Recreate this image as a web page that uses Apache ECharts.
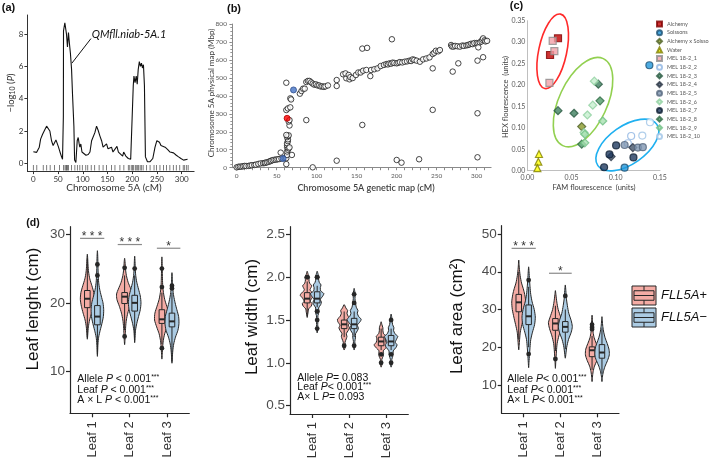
<!DOCTYPE html>
<html><head><meta charset="utf-8">
<script src="https://cdn.jsdelivr.net/npm/echarts@6/dist/echarts.min.js"></script>
<style>html,body{margin:0;padding:0;background:#fff}#c{width:709px;height:465px}</style>
</head><body><div id="c"></div>
<script>
// ================= DATA =================
// (a) QTL scan
const qtlCM = [0,6.7,12,14.7,18.7,23.4,26.8,30,33.4,36.8,40,43.4,45.7,47.8,50.4,53.7,57.1,59,60.7,61,62.3,63.7,65,67,69,71,73,75,77.3,79.3,82,83.4,86,88.7,90.7,92.7,94,96,98.3,102.3,106.4,111,114.5,117.8,121,124.4,127.8,131,134.5,138,141,144.5,148,151,154.5,158,161,164.5,169,172,176,180.6,182.6,187,192,196.8,200.8,202,203.4,205.6,208,210,212,214.3,216.5,218.6,220.6,222.6,224.6,226.6,230.7,236,241.5,246,249.7,255,258,261.6,266.4,271.7,276.4,280,283.4,289,293.6,298.4,303.7,307,311.8];
const qtlLOD = [0.72,0.68,1.0,1.5,1.8,2.1,2.3,2.35,2.0,1.4,1.1,1.0,1.45,1.4,1.05,0.72,0.4,0.25,2.9,8.2,8.1,8.7,8.6,8.0,7.2,8.1,7.4,6.8,5.8,4.2,2.3,0.2,0.05,1.4,1.6,1.2,1.0,1.2,0.7,0.6,0.5,0.55,0.7,1.4,1.5,1.9,2.3,2.05,1.7,1.4,1.0,0.9,1.2,0.9,0.85,1.0,0.7,0.7,1.05,0.7,0.7,0.45,0.7,0.45,0.3,0.25,0.25,4.8,5.4,5.0,5.4,4.9,5.8,6.3,6.0,6.2,5.9,6.1,4.8,0.4,0.1,0.1,0.3,1.0,1.4,1.3,1.1,1.15,1.0,0.85,0.7,0.6,0.65,0.5,0.4,0.3,0.2,0.15,0.25];
const rugCM = [0,7,20,27,34,43,53,61,64,66,67,69,71,77,84,89,94,99,106,110,117,124,133,141,148,158,165,175,183,192,195,199,201,202,206,208,211,213,216,219,222,229,236,244,249,256,263,269,276,283,289,296,303,306,310,313];
const qtlLabel = 'QMfll.niab-5A.1';
const qtlLabelAt = [118, 7.95];
const qtlLeader = [[78, 6.2], [116.5, 7.72]];
const aXTicks = [0,50,100,150,200,250,300];
const aYTicks = [0,2,4,6,8];

// (b) genetic vs physical map
const physMap = [[0,2],[2,5],[4,6],[6,6],[8,8],[10,10],[12,9],[15,10],[17,12],[19,14],[22,15],[24,17],[27,21],[30,24],[33,25],[35,26],[36,28],[38,30],[40,33],[42,36],[43,39],[45,42],[47,44],[49,45],[51,47],[53,48],[55,84],[56,51],[60,53],[62,20],[62,53],[63,71],[63,90],[64,100],[63,114],[63,125],[63,136],[64,148],[64,158],[63,170],[64,177],[65,180],[62,182],[65,108],[66,113],[69,71],[66,235],[65,257],[66,265],[62,321],[64,330],[67,336],[62,473],[67,386],[68,380],[79,412],[81,427],[83,440],[85,440],[87,477],[89,483],[91,483],[93,475],[95,468],[97,462],[99,464],[101,458],[103,458],[105,452],[107,453],[109,450],[111,453],[114,458],[87,265],[95,2],[125,39],[125,488],[125,455],[133,520],[137,498],[141,492],[136,525],[140,516],[142,504],[145,499],[149,516],[152,530],[155,530],[158,540],[162,544],[167,510],[168,544],[172,548],[176,553],[180,566],[184,572],[187,577],[189,575],[191,581],[193,579],[195,585],[197,583],[200,581],[202,584],[204,588],[207,586],[210,590],[213,592],[216,596],[218,594],[220,603],[222,600],[225,596],[229,590],[233,603],[237,608],[241,614],[245,633],[247,640],[249,651],[252,648],[254,655],[268,683],[269,675],[271,674],[273,678],[276,676],[279,674],[282,680],[284,678],[287,681],[289,683],[291,686],[293,690],[295,688],[297,694],[300,694],[302,694],[304,698],[306,703],[307,712],[308,720],[310,709],[311,703],[313,706],[157,663],[163,667],[194,715],[157,238],[200,43],[206,28],[228,47],[245,553],[245,322],[270,535],[277,581],[301,596],[301,303],[301,58],[308,615],[302,670]];
const physBlue = [[58,51],[71,433]];
const physRed = [[63,275]];
const bXLabels = [0,50,100,150,200,250,300];
const bXMinor = [0,10,20,30,40,50,60,70,80,90,100,110,120,130,140,150,160,170,180,190,200,210,220,230,240,250,260,270,280,290,300,310];

// (c) KASP genotyping
const cNames = ['Alchemy','Soissons','Alchemy x Soissons','Water','MEL 18-2_1','MEL 18-2_2','MEL 18-2_3','MEL 18-2_4','MEL 18-2_5','MEL 18-2_6','MEL 18-2_7','MEL 18-2_8','MEL 18-2_9','MEL 18-2_10'];
const alchemyPts = [[0.0347,0.309],[0.0257,0.270]];
const soissonsPts = [[0.138,0.246],[0.110,0.007]];
const crossPts = [[0.0615,0.103]];
const waterPts = [[0.0132,0.039],[0.0125,0.021],[0.0114,0.006]];
const mel1 = [[0.0287,0.303],[0.0306,0.279],[0.0250,0.205]];
const mel2 = [[0.1136,0.064],[0.1174,0.081]];
const mel3 = [[0.0347,0.140],[0.0528,0.134],[0.0803,0.202]];
const mel4 = [[0.0947,0.033],[0.1193,0.054]];
const mel5 = [[0.110,0.060],[0.125,0.054],[0.1306,0.055]];
const mel6 = [[0.0758,0.209],[0.0641,0.089],[0.0679,0.130],[0.074,0.153]];
const mel7 = [[0.0868,0.008],[0.0929,0.038],[0.1004,0.059],[0.120,0.031]];
const mel8 = [[0.0822,0.163],[0.0615,0.062]];
const mel9 = [[0.0853,0.116],[0.065,0.085],[0.065,0.065]];
const mel10 = [[0.130,0.082],[0.1387,0.113]];
const clusterCenters = [[0.0287,0.2786],[0.063,0.160],[0.1131,0.060]];

// (d) leaf traits
const leafCats = [1,2,3];
const lenPlusViolin = [
  [[14.7,0],[15.5,0.07],[16.5,0.15],[17.5,0.32],[18.5,0.6],[19.5,0.85],[20.5,1.0],[21.5,0.92],[22.5,0.65],[23.5,0.35],[24.5,0.18],[25.5,0.1],[26.5,0.05],[27.1,0]],
  [[13.9,0],[14.5,0.05],[15.5,0.1],[16.5,0.15],[17.5,0.25],[18.5,0.45],[19.5,0.75],[20.5,1.1],[21.3,1.15],[22,0.9],[23,0.5],[24,0.25],[25,0.12],[26,0.06],[26.5,0]],
  [[11.8,0],[12.5,0.05],[13.5,0.1],[14.5,0.2],[15.5,0.4],[16.5,0.75],[17.5,1.05],[18.5,1.0],[19.5,0.7],[20.5,0.4],[21.5,0.22],[22.5,0.12],[23.5,0.08],[25,0.05],[26.7,0]]];
const lenMinusViolin = [
  [[12.2,0],[13,0.04],[14,0.08],[15,0.18],[16,0.4],[17,0.65],[18,0.85],[19,0.9],[20,0.8],[21,0.55],[22,0.32],[23,0.18],[24,0.12],[25,0.09],[26,0.07],[27,0.04],[27.6,0]],
  [[14.2,0],[15,0.05],[16,0.12],[17,0.3],[18,0.55],[19,0.8],[20,0.9],[21,0.8],[22,0.55],[23,0.3],[24,0.15],[25,0.08],[26,0.05],[26.8,0]],
  [[11.2,0],[12,0.05],[13,0.12],[14,0.25],[15,0.5],[16,0.85],[17,1.0],[18,0.95],[19,0.7],[20,0.45],[21,0.25],[22,0.12],[23,0.07],[24.4,0]]];
const lenPlusBox = [[15.0,19.3,20.6,21.8,26.5],[16.0,19.9,20.9,21.5,24.0],[14.0,17.0,17.6,19.0,21.5]];
const lenMinusBox = [[12.5,16.8,18.0,19.6,23.5],[14.5,18.8,20.0,21.1,24.0],[11.5,16.5,17.3,18.5,21.5]];
const lenPlusOut = [[],[25.1,15.1],[25.0,22.3,13.4]];
const lenMinusOut = [[25.6,24.0],[25.0],[22.5,22.1]];
const lenSig = [[0.67,1.32,29.4,'* * *'],[1.68,2.33,28.5,'* * *'],[2.73,3.36,27.96,'*']];

const widPlusViolin = [
  [[1.53,0],[1.57,0.08],[1.6,0.15],[1.63,0.2],[1.66,0.55],[1.69,0.7],[1.72,0.45],[1.76,0.7],[1.79,1.0],[1.82,0.75],[1.85,0.4],[1.88,0.55],[1.9,0.65],[1.93,0.35],[1.97,0.25],[2.0,0.35],[2.03,0.15],[2.07,0]],
  [[1.15,0],[1.2,0.18],[1.24,0.12],[1.28,0.3],[1.31,0.4],[1.34,0.3],[1.38,0.6],[1.41,0.75],[1.44,0.6],[1.48,0.9],[1.51,0.95],[1.54,0.6],[1.58,0.4],[1.61,0.5],[1.64,0.25],[1.68,0]],
  [[0.95,0],[1.0,0.15],[1.04,0.1],[1.08,0.3],[1.11,0.35],[1.14,0.3],[1.18,0.75],[1.21,1.0],[1.24,0.7],[1.28,0.6],[1.31,0.7],[1.34,0.35],[1.38,0.25],[1.41,0.25],[1.45,0.1],[1.48,0]]];
const widMinusViolin = [
  [[1.35,0],[1.4,0.1],[1.45,0.08],[1.5,0.12],[1.55,0.1],[1.6,0.28],[1.64,0.2],[1.68,0.5],[1.71,0.6],[1.74,0.45],[1.78,0.8],[1.81,0.95],[1.84,0.5],[1.88,0.45],[1.91,0.55],[1.94,0.3],[1.98,0.2],[2.0,0.3],[2.03,0.15],[2.07,0]],
  [[1.15,0],[1.2,0.12],[1.25,0.1],[1.3,0.2],[1.34,0.2],[1.38,0.5],[1.41,0.6],[1.44,0.45],[1.48,0.85],[1.51,1.0],[1.54,0.65],[1.58,0.45],[1.61,0.55],[1.65,0.3],[1.7,0.2],[1.75,0.12],[1.8,0.15],[1.84,0.08],[1.87,0]],
  [[0.95,0],[1.0,0.15],[1.04,0.1],[1.08,0.25],[1.11,0.3],[1.14,0.3],[1.18,0.7],[1.21,0.85],[1.24,0.6],[1.28,0.8],[1.31,0.95],[1.34,0.55],[1.38,0.35],[1.41,0.4],[1.45,0.2],[1.5,0.15],[1.54,0.08],[1.57,0]]];
const widPlusBox = [[1.55,1.70,1.75,1.82,1.95],[1.30,1.40,1.45,1.50,1.60],[1.15,1.20,1.25,1.30,1.40]];
const widMinusBox = [[1.65,1.70,1.75,1.83,1.90],[1.30,1.40,1.45,1.52,1.60],[1.15,1.20,1.25,1.32,1.40]];
const widPlusOut = [[2.0],[1.2],[1.1,1.0]];
const widMinusOut = [[2.0,1.6,1.5,1.4],[1.8,1.7,1.2],[1.5,1.1,1.0]];
const widSig = [];

const areaPlusViolin = [
  [[19.3,0],[20.5,0.06],[22,0.12],[24,0.22],[26,0.45],[28,0.7],[30,0.92],[32,1.0],[34,0.85],[35.5,0.65],[37,0.4],[39,0.2],[41,0.08],[43.1,0]],
  [[14.4,0],[16,0.05],[17.5,0.1],[19,0.15],[21,0.25],[23,0.5],[25,0.85],[26.5,1.0],[28,0.75],[30,0.4],[32,0.2],[34,0.07],[35,0]],
  [[10.9,0],[12,0.05],[13.5,0.15],[15,0.35],[16.5,0.7],[18,0.95],[19.5,0.9],[21,0.6],[22.5,0.3],[24,0.15],[25.5,0.1],[27,0.06],[28.5,0]]];
const areaMinusViolin = [
  [[14.6,0],[16,0.05],[18,0.12],[20,0.2],[22,0.3],[24,0.55],[26,0.85],[28,0.95],[30,0.8],[32,0.5],[34,0.3],[36,0.2],[38,0.12],[40,0.06],[41.3,0]],
  [[17.1,0],[18.5,0.1],[20,0.2],[22,0.45],[24,0.85],[25.5,1.0],[27,0.85],[29,0.5],[31,0.3],[33,0.15],[35,0.08],[36.5,0]],
  [[10.9,0],[12,0.05],[13.5,0.2],[15,0.45],[16.5,0.8],[18,1.05],[19.5,1.0],[21,0.75],[22.5,0.45],[24,0.25],[25.5,0.12],[27,0.05],[28.1,0]]];
const areaPlusBox = [[22,29.4,31.9,34.0,40],[19,24.5,26.3,27.6,31],[14,17.5,19.2,20.1,23]];
const areaMinusBox = [[20,26,28.2,31.2,36],[19.5,24.0,25.4,26.8,30],[13,17.1,18.6,20.7,25]];
const areaPlusOut = [[],[16.9],[26.0,25.3,24.8]];
const areaMinusOut = [[37.8,18.2],[33.6],[]];
const areaSig = [[0.67,1.33,46.2,'* * *'],[1.69,2.31,39.6,'*']];

const lenTicks = [10,20,30];
const widTicks = [0.5,1.0,1.5,2.0,2.5];
const areaTicks = [10,20,30,40,50];

// ================= STYLE / LAYOUT =================
const FA = 'Lato, "Open Sans", sans-serif';
const FD = '"Liberation Sans", Arial, sans-serif';
const PINK = '#f4aca5', BLUE = '#abcbe3', INK = '#262626';
const HW = 7, DODGE = 0.135, BOXHALF = 0.075;

const chart = echarts.init(document.getElementById('c'), null, {renderer: 'canvas'});

function vAxis(o) {
  return Object.assign({type: 'value', splitLine: {show: false}, axisLine: {show: true, onZero: false}}, o);
}

const grids = [
  {left: 27.4, top: 15, width: 166.7, height: 156.1},
  {left: 231.9, top: 24, width: 259.2, height: 143.7},
  {left: 527.3, top: 20.7, width: 132.7, height: 150},
  {left: 70, top: 226.7, width: 119.3, height: 186.6},
  {left: 290, top: 226.7, width: 118.3, height: 187.3},
  {left: 501.7, top: 225.7, width: 117.3, height: 187.6}
].map(g => Object.assign({outerBoundsMode: 'none', containLabel: false}, g));

const dX = gi => vAxis({gridIndex: gi, min: 0.4, max: 3.6,
  axisLine: {show: true, onZero: false, lineStyle: {color: INK, width: 1.2}},
  axisTick: {show: true, customValues: leafCats, length: 4, lineStyle: {color: INK, width: 1.2}},
  axisLabel: {customValues: leafCats, rotate: 90, margin: 8, fontSize: 13, color: '#333', fontFamily: FD, formatter: v => 'Leaf ' + v}});
const dY = (gi, mn, mx, ticks, dec) => vAxis({gridIndex: gi, min: mn, max: mx,
  axisLine: {show: true, onZero: false, lineStyle: {color: INK, width: 1.2}},
  axisTick: {show: true, customValues: ticks, length: 4, lineStyle: {color: INK, width: 1.2}},
  axisLabel: {customValues: ticks, margin: 5, fontSize: 13.5, color: '#4d4d4d', fontFamily: FD, formatter: v => v.toFixed(dec)}});

const xAxes = [
  vAxis({gridIndex: 0, min: -12, max: 325,
    axisLine: {show: true, onZero: false, lineStyle: {color: '#333', width: 1}},
    axisTick: {show: true, customValues: aXTicks, length: 3, lineStyle: {color: '#333'}},
    axisLabel: {customValues: aXTicks, fontSize: 8, color: '#333', margin: 4, fontFamily: FA}}),
  vAxis({gridIndex: 1, min: -6, max: 318,
    axisLine: {show: true, onZero: false, lineStyle: {color: '#8a8a8a', width: 1}},
    axisTick: {show: true, customValues: bXMinor, length: 2.5, lineStyle: {color: '#8a8a8a'}},
    axisLabel: {customValues: bXLabels, fontSize: 6.5, color: '#595959', margin: 5, fontFamily: FA}}),
  vAxis({gridIndex: 2, min: 0, max: 0.15, interval: 0.05,
    axisLine: {show: true, onZero: false, lineStyle: {color: '#bfbfbf', width: 1}},
    axisTick: {show: false},
    axisLabel: {fontSize: 7, color: '#595959', margin: 4, fontFamily: FA, formatter: v => v.toFixed(2)}}),
  dX(3), dX(4), dX(5)
];
const yAxes = [
  vAxis({gridIndex: 0, min: -0.48, max: 9.18,
    axisLine: {show: true, onZero: false, lineStyle: {color: '#333', width: 1}},
    axisTick: {show: true, customValues: aYTicks, length: 3, lineStyle: {color: '#333'}},
    axisLabel: {customValues: aYTicks, fontSize: 8, color: '#333', margin: 4, fontFamily: FA}}),
  vAxis({gridIndex: 1, min: 0, max: 800, interval: 100,
    axisLine: {show: true, onZero: false, lineStyle: {color: '#8a8a8a', width: 1}},
    axisTick: {show: true, length: 2.5, lineStyle: {color: '#8a8a8a'}},
    minorTick: {show: true, splitNumber: 5, length: 1.5, lineStyle: {color: '#8a8a8a'}},
    axisLabel: {fontSize: 6.5, color: '#595959', margin: 5, fontFamily: FA}}),
  vAxis({gridIndex: 2, min: 0, max: 0.35, interval: 0.05,
    axisLine: {show: true, onZero: false, lineStyle: {color: '#bfbfbf', width: 1}},
    axisTick: {show: false},
    axisLabel: {fontSize: 7, color: '#595959', margin: 2, fontFamily: FA, formatter: v => v.toFixed(2)}}),
  dY(3, 3.9, 31.1, lenTicks, 0),
  dY(4, 0.403, 2.59, widTicks, 1),
  dY(5, 2.5, 52.2, areaTicks, 0)
];

const series = [];
// (a)
series.push({type: 'line', xAxisIndex: 0, yAxisIndex: 0, data: qtlCM.map((c, i) => [c, qtlLOD[i]]),
  showSymbol: false, symbol: 'none', lineStyle: {color: '#111', width: 1.1}, silent: true});
series.push({type: 'scatter', xAxisIndex: 0, yAxisIndex: 0, data: rugCM.map(c => [c, -0.27]),
  symbol: 'rect', symbolSize: [0.8, 5.5], itemStyle: {color: '#333'}, silent: true});
series.push({type: 'custom', xAxisIndex: 0, yAxisIndex: 0, silent: true, data: [qtlLabelAt],
  renderItem: (p, api) => {
    const a = api.coord(qtlLeader[0]), b = api.coord(qtlLeader[1]), t = api.coord(qtlLabelAt);
    return {type: 'group', children: [
      {type: 'line', shape: {x1: a[0], y1: a[1], x2: b[0], y2: b[1]}, style: {stroke: '#111', lineWidth: 1}},
      {type: 'text', x: t[0], y: t[1], style: {text: qtlLabel, font: 'italic 11px ' + FA, fill: '#111', align: 'left', verticalAlign: 'middle'}}]};
  }});
// (b)
series.push({type: 'scatter', xAxisIndex: 1, yAxisIndex: 1, data: physMap, symbol: 'circle', symbolSize: 5.5,
  itemStyle: {color: '#ffffff', borderColor: '#1a1a1a', borderWidth: 1}, silent: true});
series.push({type: 'scatter', xAxisIndex: 1, yAxisIndex: 1, data: physBlue, symbol: 'circle', symbolSize: 6,
  itemStyle: {color: '#4472c4', borderColor: '#2f4f8f', borderWidth: 1}, silent: true});
series.push({type: 'scatter', xAxisIndex: 1, yAxisIndex: 1, data: physRed, symbol: 'circle', symbolSize: 6,
  itemStyle: {color: '#ff0000', borderColor: '#b00000', borderWidth: 1}, silent: true});
// (c)
const cPts = [alchemyPts, soissonsPts, crossPts, waterPts, mel1, mel2, mel3, mel4, mel5, mel6, mel7, mel8, mel9, mel10];
const cStyle = [
  ['rect', '#c00000', '#7f0000'], ['circle', '#2196d9', '#1b4f72'], ['diamond', '#8a9a2a', '#4f6228'], ['triangle', '#ffff00', '#7f7f00'],
  ['rect', '#f2a0a8', '#8c8c8c'], ['circle', '#ffffff', '#8db4e2'], ['diamond', '#3f7f5f', '#2a5a42'], ['diamond', '#44546a', '#2a3444'],
  ['circle', '#7f96b2', '#55667d'], ['diamond', '#c6efce', '#8fcf9f'], ['circle', '#1f3a5f', '#0f1f33'], ['diamond', '#4f9a6a', '#2f6a45'],
  ['diamond', '#a6e0b0', '#6fbf85'], ['circle', '#ffffff', '#9dc3e6']];
cNames.forEach((n, i) => {
  series.push({type: 'scatter', name: n, xAxisIndex: 2, yAxisIndex: 2, data: cPts[i], symbol: cStyle[i][0],
    symbolSize: cStyle[i][0] === 'diamond' ? 8 : 7,
    itemStyle: {color: cStyle[i][1], borderColor: cStyle[i][2], borderWidth: 1.2}, silent: true});
});
const ellGeom = [[14, 38, -12, '#ff2a2a'], [24, 48, -25, '#92d050'], [36, 19, 35, '#1fb0f0']];
series.push({type: 'custom', xAxisIndex: 2, yAxisIndex: 2, silent: true, data: clusterCenters,
  renderItem: (p, api) => {
    const g = ellGeom[p.dataIndex]; const c = api.coord([api.value(0), api.value(1)]);
    return {type: 'ellipse', x: c[0], y: c[1], rotation: g[2] * Math.PI / 180, shape: {cx: 0, cy: 0, rx: g[0], ry: g[1]},
      style: {fill: 'none', stroke: g[3], lineWidth: 1.6}};
  }});

// (d)
function violinRender(profiles, off, color) {
  return function (params, api) {
    const prof = profiles[params.dataIndex]; const x = api.value(0) + off; const pts = [];
    for (let k = 0; k < prof.length; k++) { const p = api.coord([x, prof[k][0]]); pts.push([p[0] + prof[k][1] * HW, p[1]]); }
    for (let k = prof.length - 2; k >= 1; k--) { const p = api.coord([x, prof[k][0]]); pts.push([p[0] - prof[k][1] * HW, p[1]]); }
    return {type: 'polygon', shape: {points: pts, smooth: 0.25}, style: {fill: color, stroke: INK, lineWidth: 1}};
  };
}
function boxRender(boxes, outs, off, color) {
  return function (params, api) {
    const i = params.dataIndex, b = boxes[i], x = api.value(0) + off;
    const c = v => api.coord([x, v]);
    const tl = api.coord([x - BOXHALF, b[3]]), br = api.coord([x + BOXHALF, b[1]]);
    const m1 = api.coord([x - BOXHALF, b[2]]), m2 = api.coord([x + BOXHALF, b[2]]);
    const w0 = c(b[0]), w1 = c(b[1]), w3 = c(b[3]), w4 = c(b[4]);
    const ch = [
      {type: 'line', shape: {x1: w0[0], y1: w0[1], x2: w1[0], y2: w1[1]}, style: {stroke: INK, lineWidth: 1}},
      {type: 'line', shape: {x1: w3[0], y1: w3[1], x2: w4[0], y2: w4[1]}, style: {stroke: INK, lineWidth: 1}},
      {type: 'rect', shape: {x: tl[0], y: tl[1], width: br[0] - tl[0], height: br[1] - tl[1]}, style: {fill: color, stroke: INK, lineWidth: 1}},
      {type: 'line', shape: {x1: m1[0], y1: m1[1], x2: m2[0], y2: m2[1]}, style: {stroke: INK, lineWidth: 2}}];
    outs[i].forEach(v => { const p = c(v); ch.push({type: 'circle', shape: {cx: p[0], cy: p[1], r: 2.4}, style: {fill: INK}}); });
    return {type: 'group', children: ch};
  };
}
function sigRender(sigs) {
  return function (params, api) {
    const s = sigs[params.dataIndex]; const a = api.coord([s[0], s[2]]), b = api.coord([s[1], s[2]]);
    return {type: 'group', children: [
      {type: 'line', shape: {x1: a[0], y1: a[1], x2: b[0], y2: b[1]}, style: {stroke: '#8a8a8a', lineWidth: 1.2}},
      {type: 'text', x: (a[0] + b[0]) / 2, y: a[1] - 1.5, style: {text: s[3], font: '12px ' + FD, fill: '#333', align: 'center', verticalAlign: 'middle'}}]};
  };
}
const dPlots = [
  [3, lenPlusViolin, lenMinusViolin, lenPlusBox, lenMinusBox, lenPlusOut, lenMinusOut, lenSig],
  [4, widPlusViolin, widMinusViolin, widPlusBox, widMinusBox, widPlusOut, widMinusOut, widSig],
  [5, areaPlusViolin, areaMinusViolin, areaPlusBox, areaMinusBox, areaPlusOut, areaMinusOut, areaSig]];
dPlots.forEach(([g, pv, mv, pb, mb, po, mo, sg]) => {
  const base = {type: 'custom', xAxisIndex: g, yAxisIndex: g, silent: true, clip: false, encode: {x: 0, y: 1}};
  series.push(Object.assign({}, base, {name: 'FLL5A+', itemStyle: {color: PINK}, data: leafCats.map((c, i) => [c, pb[i][2]]), renderItem: violinRender(pv, -DODGE, PINK)}));
  series.push(Object.assign({}, base, {name: 'FLL5A\u2212', itemStyle: {color: BLUE}, data: leafCats.map((c, i) => [c, mb[i][2]]), renderItem: violinRender(mv, DODGE, BLUE)}));
  series.push(Object.assign({}, base, {name: 'FLL5A+', itemStyle: {color: PINK}, data: leafCats.map((c, i) => [c, pb[i][2]]), renderItem: boxRender(pb, po, -DODGE, PINK)}));
  series.push(Object.assign({}, base, {name: 'FLL5A\u2212', itemStyle: {color: BLUE}, data: leafCats.map((c, i) => [c, mb[i][2]]), renderItem: boxRender(mb, mo, DODGE, BLUE)}));
  if (sg.length) series.push(Object.assign({}, base, {data: sg.map(s => [(s[0] + s[1]) / 2, s[2]]), renderItem: sigRender(sg)}));
});

// texts
function txt(x, y, text, font, fill, rot, align, rich) {
  const st = {text, font, fill, align: align || 'center', verticalAlign: 'middle'};
  if (rich) st.rich = rich;
  return {type: 'text', x, y, rotation: rot || 0, style: st, silent: true};
}
const statRich = {i: {fontStyle: 'italic', fontSize: 10.5, fontFamily: FD, fill: '#111'}, s: {fontSize: 7, fontFamily: FD, verticalAlign: 'top', fill: '#111', padding: [0, 0, 4, 0]}};
const statFont = '10.5px ' + FD;
const R90 = Math.PI / 2;
const graphics = [
  txt(8.5, 7.5, '(a)', 'bold 11px ' + FD, '#111'),
  txt(234, 9, '(b)', 'bold 11px ' + FD, '#111'),
  txt(516.5, 6, '(c)', 'bold 11px ' + FD, '#111'),
  txt(33, 223, '(d)', 'bold 10.5px ' + FD, '#111'),
  txt(114, 188, 'Chromosome 5A (cM)', '10px ' + FA, '#333'),
  txt(11, 93, '\u2212log{sub|10} ({i|P})', '9.5px ' + FA, '#333', R90, 'center', {sub: {fontSize: 7, fontFamily: FA, fill: '#333', verticalAlign: 'bottom'}, i: {fontStyle: 'italic', fontSize: 9.5, fontFamily: FA, fill: '#333'}}),
  txt(366, 188, 'Chromosome 5A genetic map (cM)', '600 9px ' + FA, '#404040'),
  txt(211, 93, 'Chromosome 5A physical map (Mbp)', '8px ' + FA, '#404040', R90),
  txt(594, 188, 'FAM flourescence  (units)', '7.5px ' + FA, '#404040'),
  txt(506, 97, 'HEX flourescence  (units)', '7.5px ' + FA, '#404040', R90),
  txt(33, 309, 'Leaf lenght (cm)', '17px ' + FD, '#111', R90),
  txt(252, 317, 'Leaf width (cm)', '17px ' + FD, '#111', R90),
  txt(457, 316, 'Leaf area (cm\u00b2)', '17px ' + FD, '#111', R90),
  txt(77.3, 379.3, 'Allele {i|P} < 0.001{s|***}', statFont, '#111', 0, 'left', statRich),
  txt(77.3, 390, 'Leaf {i|P} < 0.001{s|***}', statFont, '#111', 0, 'left', statRich),
  txt(77.3, 400.5, 'A \u00d7 L {i|P} < 0.001{s|***}', statFont, '#111', 0, 'left', statRich),
  txt(297.3, 377.7, 'Allele {i|P}= 0.083', statFont, '#111', 0, 'left', statRich),
  txt(297.3, 387.5, 'Leaf {i|P}< 0.001{s|***}', statFont, '#111', 0, 'left', statRich),
  txt(297.3, 397.5, 'A\u00d7 L {i|P}= 0.093', statFont, '#111', 0, 'left', statRich),
  txt(507.3, 379.3, 'Allele {i|P}< 0.001{s|***}', statFont, '#111', 0, 'left', statRich),
  txt(507.3, 390, 'Leaf {i|P}< 0.001{s|***}', statFont, '#111', 0, 'left', statRich),
  txt(507.3, 400.5, 'A\u00d7 L {i|P}< 0.001{s|***}', statFont, '#111', 0, 'left', statRich)
];

chart.setOption({
  animation: false,
  backgroundColor: '#ffffff',
  grid: grids,
  xAxis: xAxes,
  yAxis: yAxes,
  legend: [
    {data: cNames.map((n, i) => ({name: n, icon: cStyle[i][0]})), orient: 'vertical', left: 656, top: 20.5, itemWidth: 5, itemHeight: 5, itemGap: 1.65, selectedMode: false,
      padding: 0, textStyle: {fontSize: 5.5, color: '#595959', fontFamily: FA}},
    {data: ['FLL5A+', 'FLL5A\u2212'], orient: 'vertical', left: 631.5, top: 285.5, itemWidth: 24, itemHeight: 19, itemGap: 2,
      selectedMode: false, padding: 0, icon: 'path://M0,0H24V20H0Z M2,5H22V15H2Z M2,10H22 M12,0V5 M12,15V20',
      itemStyle: {borderColor: INK, borderWidth: 1}, symbolKeepAspect: false,
      textStyle: {fontSize: 13, fontStyle: 'italic', color: '#111', fontFamily: FD}}
  ],
  graphic: graphics,
  series: series
});
</script></body></html>
